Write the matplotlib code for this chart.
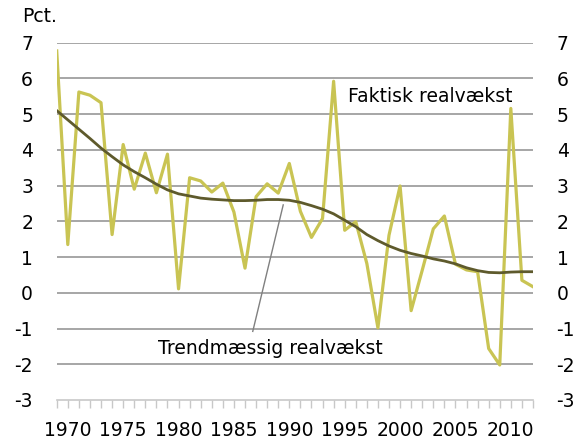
import matplotlib.pyplot as plt

years = list(range(1969, 2013))

faktisk = [6.77, 1.35, 5.62, 5.53, 5.32, 1.63, 4.15, 2.90, 3.91, 2.80,
           3.88, 0.11, 3.22, 3.13, 2.82, 3.07, 2.26, 0.69, 2.69, 3.05,
           2.79, 3.62, 2.28, 1.55, 2.08, 5.92, 1.75, 1.99, 0.82, -0.98,
           1.61, 2.99, -0.50, 0.63, 1.79, 2.15, 0.80, 0.64, 0.59, -1.56,
           -2.02, 5.16, 0.35, 0.17]

trend = [5.10, 4.84, 4.58, 4.32, 4.05, 3.81, 3.58, 3.39, 3.22, 3.04,
         2.88, 2.77, 2.71, 2.65, 2.62, 2.60, 2.58, 2.58, 2.59, 2.61,
         2.61, 2.59, 2.53, 2.44, 2.34, 2.21, 2.03, 1.85, 1.63, 1.46,
         1.31, 1.19, 1.10, 1.03, 0.95, 0.89, 0.81, 0.70, 0.62, 0.57,
         0.56, 0.58, 0.59, 0.59]

yticks = list(range(-3, 8))
year_labels = [str(y) if y % 5 == 0 else '' for y in years]

plt.rcParams['font.family'] = 'DejaVu Sans'
fs = 13.5

fig = plt.figure(figsize=(5.77, 4.41), dpi=100)
ax = fig.add_axes([0.0983, 0.093, 0.8254, 0.8102])

grid_col = '#a6a6a6'
for y in yticks[1:]:
    ax.axhline(y, color=grid_col, lw=1.4, zorder=1)

ax.plot(years, trend, color='#5e5a2c', lw=2.0, zorder=3)
ax.plot(years, faktisk, color='#c9c453', lw=2.3, zorder=2)

ax.set_xlim(1969, 2012)
ax.set_ylim(-3, 7)

for s in ['top', 'left', 'right']:
    ax.spines[s].set_visible(False)
ax.spines['bottom'].set_color('#c8c8c8')
ax.spines['bottom'].set_linewidth(1.2)

ax.set_xticks(years)
ax.set_xticklabels(year_labels, fontsize=fs)
ax.tick_params(axis='x', length=6, width=1.0, color='#c8c8c8', pad=9)

ax.set_yticks(yticks)
ax.set_yticklabels([str(t) for t in yticks], fontsize=fs)
ax.tick_params(axis='y', length=0, pad=17, labelright=True, right=False)

fig.text(0.038, 0.962, 'Pct.', fontsize=fs, va='center', ha='left')

ax.text(2002.7, 5.5, 'Faktisk realvækst', fontsize=fs, ha='center', va='center')

# label for the trend line with a thin grey leader
ax.plot([1986.7, 1989.45], [-1.08, 2.46], color='#808080', lw=1.0, zorder=4)
ax.text(1988.25, -1.55, 'Trendmæssig realvækst', fontsize=fs,
        ha='center', va='center')

plt.savefig('out.png', dpi=100)
